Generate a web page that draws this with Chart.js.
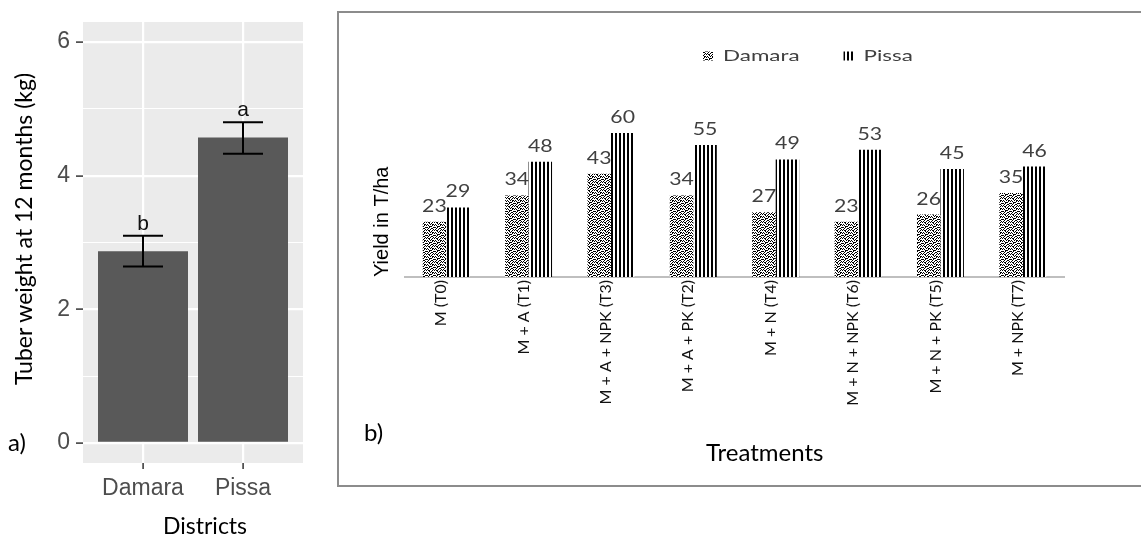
<!DOCTYPE html>
<html>
<head>
<meta charset="utf-8">
<script src="https://cdn.jsdelivr.net/npm/chart.js@4.4.1/dist/chart.umd.min.js"></script>
<style>
  html, body { margin: 0; padding: 0; background: #fff; width: 1141px; height: 538px; overflow: hidden; }
  #canvasA { position: absolute; left: 0; top: 0; }
  #frameB { position: absolute; left: 337px; top: 11px; width: 830px; height: 476px; border: 2px solid #8c8c8c; box-sizing: border-box; }
  #canvasB { position: absolute; left: 339px; top: 13px; }
  .tag { position: absolute; font-family: Lato, sans-serif; font-size: 24px; color: #000; line-height: 1; white-space: nowrap; }
  .vtag { position: absolute; font-family: Lato, sans-serif; font-size: 23px; color: #000; line-height: 1; white-space: nowrap;
          transform: translate(-50%, -50%) rotate(-90deg); }
</style>
</head>
<body>
<canvas id="canvasA" width="335" height="538"></canvas>
<div id="frameB"></div>
<canvas id="canvasB" width="800" height="472"></canvas>
<div class="vtag" style="left:23px; top:229px;">Tuber weight at 12 months (kg)</div>
<div class="tag" style="left:8px; top:430px;">a)</div>
<div class="tag" style="left:163px; top:514px; font-size:23px;">Districts</div>
<div class="tag" style="left:364px; top:420px;">b)</div>
<div class="tag" style="left:706px; top:440px;">Treatments</div>

<script>
// ---- Panel a: tuber weight by district ----
const districts = ['Damara', 'Pissa'];
const tuberWeight = [2.87, 4.57];
const weightLow = [2.64, 4.33];
const weightHigh = [3.10, 4.80];
const groupLetters = ['b', 'a'];
const weightTicks = [0, 1, 2, 3, 4, 5, 6];

// ---- Panel b: yield by treatment ----
const treatments = ['M (T0)', 'M + A (T1)', 'M + A + NPK (T3)', 'M + A + PK (T2)',
                    'M + N (T4)', 'M + N + NPK (T6)', 'M + N + PK (T5)', 'M + NPK (T7)'];
const damaraYield = [23, 34, 43, 34, 27, 23, 26, 35];
const pissaYield = [29, 48, 60, 55, 49, 53, 45, 46];

// grey panel behind the plotting area (ggplot style)
const panelBackground = {
  id: 'panelBackground',
  beforeDraw(chart, args, opts) {
    const { ctx, chartArea: a } = chart;
    ctx.save();
    ctx.fillStyle = opts.color;
    ctx.fillRect(a.left, a.top, a.right - a.left, a.bottom - a.top);
    ctx.restore();
  }
};

// error bars with significance letters on top
const errorBars = {
  id: 'errorBars',
  afterDatasetsDraw(chart) {
    const { ctx, scales: { x, y } } = chart;
    const half = x.getPixelForValue(1.2) - x.getPixelForValue(1);
    ctx.save();
    ctx.strokeStyle = '#000';
    ctx.lineWidth = 2;
    ctx.fillStyle = '#111';
    ctx.font = '21px "Liberation Sans", Arial, sans-serif';
    ctx.textAlign = 'center';
    ctx.textBaseline = 'alphabetic';
    districts.forEach((d, i) => {
      const cx = x.getPixelForValue(i + 1);
      const yl = y.getPixelForValue(weightLow[i]);
      const yh = y.getPixelForValue(weightHigh[i]);
      ctx.beginPath();
      ctx.moveTo(cx, yl); ctx.lineTo(cx, yh);
      ctx.moveTo(cx - half, yl); ctx.lineTo(cx + half, yl);
      ctx.moveTo(cx - half, yh); ctx.lineTo(cx + half, yh);
      ctx.stroke();
      ctx.fillText(groupLetters[i], cx, yh - 6);
    });
    ctx.restore();
  }
};

new Chart(document.getElementById('canvasA'), {
  type: 'bar',
  data: {
    datasets: [{
      data: districts.map((d, i) => ({ x: i + 1, y: tuberWeight[i] })),
      backgroundColor: '#595959',
      borderWidth: 0,
      categoryPercentage: 1,
      barPercentage: 0.9
    }]
  },
  options: {
    responsive: false,
    animation: false,
    devicePixelRatio: 1,
    layout: { padding: { top: 22, right: 32, left: 0, bottom: 0 } },
    plugins: {
      legend: { display: false },
      tooltip: { enabled: false },
      panelBackground: { color: '#ebebeb' }
    },
    scales: {
      x: {
        type: 'linear',
        min: 0.4,
        max: 2.6,
        offset: false,
        afterBuildTicks: s => { s.ticks = districts.map((d, i) => ({ value: i + 1 })); },
        afterFit: s => { s.height = 75; },
        ticks: {
          callback: v => districts[v - 1],
          color: '#4d4d4d',
          font: { family: '"Liberation Sans", Arial, sans-serif', size: 23 },
          padding: 6
        },
        grid: { offset: false, color: '#ffffff', lineWidth: 2.2, tickColor: '#333333', tickLength: 6, tickWidth: 1.5 },
        border: { display: false }
      },
      y: {
        min: -0.3,
        max: 6.3,
        afterBuildTicks: s => { s.ticks = weightTicks.map(v => ({ value: v })); },
        afterFit: s => { s.width = 83; },
        ticks: {
          callback: v => (v % 2 === 0 ? String(v) : ''),
          color: '#4d4d4d',
          font: { family: '"Liberation Sans", Arial, sans-serif', size: 23 },
          padding: 6
        },
        grid: {
          color: '#ffffff',
          lineWidth: c => (c.tick && c.tick.value % 2 === 0 ? 2.2 : 1.1),
          tickColor: c => (c.tick && c.tick.value % 2 === 0 ? '#333333' : 'rgba(0,0,0,0)'),
          tickLength: 7,
          tickWidth: 1.5
        },
        border: { display: false }
      }
    }
  },
  plugins: [panelBackground, errorBars]
});

// ---- fill patterns for panel b ----
function confettiPattern() {
  const rows = ['10010010', '01100101', '00101000', '10010110', '01000101', '00111000', '10100011', '01001100'];
  const c = document.createElement('canvas');
  c.width = 8; c.height = 8;
  const g = c.getContext('2d');
  g.fillStyle = '#fff'; g.fillRect(0, 0, 8, 8);
  g.fillStyle = '#000';
  rows.forEach((r, y) => [...r].forEach((b, x) => { if (b === '1') g.fillRect(x, y, 1, 1); }));
  return g.createPattern(c, 'repeat');
}
function stripePattern() {
  const c = document.createElement('canvas');
  c.width = 4; c.height = 4;
  const g = c.getContext('2d');
  g.fillStyle = '#fff'; g.fillRect(0, 0, 4, 4);
  g.fillStyle = '#000'; g.fillRect(0, 0, 2, 4);
  return g.createPattern(c, 'repeat');
}

// draws text stretched horizontally around its anchor
function wideText(ctx, text, x, y, sx) {
  ctx.save();
  ctx.translate(x, y);
  ctx.scale(sx, 1);
  ctx.fillText(text, 0, 0);
  ctx.restore();
}

// value labels above each bar
const valueLabels = {
  id: 'valueLabels',
  afterDatasetsDraw(chart, args, opts) {
    const ctx = chart.ctx;
    ctx.save();
    ctx.font = opts.font;
    ctx.fillStyle = opts.color;
    ctx.textAlign = 'center';
    ctx.textBaseline = 'alphabetic';
    chart.data.datasets.forEach((ds, di) => {
      chart.getDatasetMeta(di).data.forEach((bar, i) => {
        wideText(ctx, String(ds.data[i]), bar.x, bar.y - opts.gap, opts.stretch);
      });
    });
    ctx.restore();
  }
};

// legend with pattern swatches
const patternLegend = {
  id: 'patternLegend',
  afterDraw(chart, args, opts) {
    const ctx = chart.ctx;
    ctx.save();
    ctx.font = opts.font;
    ctx.textBaseline = 'middle';
    ctx.textAlign = 'left';
    let x = opts.x;
    chart.data.datasets.forEach(ds => {
      ctx.fillStyle = ds.backgroundColor;
      ctx.fillRect(x, opts.y - opts.boxH / 2, opts.boxW, opts.boxH);
      x += opts.boxW + opts.gap;
      ctx.fillStyle = opts.color;
      wideText(ctx, ds.label, x, opts.y, opts.stretch);
      x += ctx.measureText(ds.label).width * opts.stretch + opts.spacing;
    });
    ctx.restore();
  }
};

new Chart(document.getElementById('canvasB'), {
  type: 'bar',
  data: {
    labels: treatments,
    datasets: [
      { label: 'Damara', data: damaraYield, backgroundColor: confettiPattern(), borderWidth: 0 },
      { label: 'Pissa', data: pissaYield, backgroundColor: stripePattern(), borderWidth: 0 }
    ]
  },
  options: {
    responsive: false,
    animation: false,
    devicePixelRatio: 1,
    layout: { padding: { top: 72, right: 75, left: 0, bottom: 0 } },
    datasets: { bar: { categoryPercentage: 0.57, barPercentage: 1 } },
    plugins: {
      legend: { display: false },
      tooltip: { enabled: false },
      valueLabels: { font: '17px Lato, sans-serif', color: '#404040', gap: 10, stretch: 1.25 },
      patternLegend: { x: 364, y: 43, boxW: 10, boxH: 9, gap: 10, spacing: 44, stretch: 1.4, font: '16px Lato, sans-serif', color: '#404040' }
    },
    scales: {
      x: {
        afterFit: s => { s.height = 208; },
        grid: { display: true, drawOnChartArea: false, drawTicks: false },
        border: { display: true, color: '#bfbfbf', width: 2 },
        ticks: {
          autoSkip: false, minRotation: 90, maxRotation: 90, padding: 3, labelOffset: -5,
          color: '#111', font: { family: 'Lato, sans-serif', size: 16 }
        }
      },
      y: {
        min: 0,
        max: 80,
        afterFit: s => { s.width = 66; },
        grid: { display: false },
        border: { display: false },
        ticks: { display: false },
        title: {
          display: true, text: 'Yield in T/ha', align: 'start', color: '#000',
          font: { family: '"Liberation Sans", Arial, sans-serif', size: 20 },
          padding: { top: 31, bottom: 0 }
        }
      }
    }
  },
  plugins: [valueLabels, patternLegend]
});
</script>
</body>
</html>
